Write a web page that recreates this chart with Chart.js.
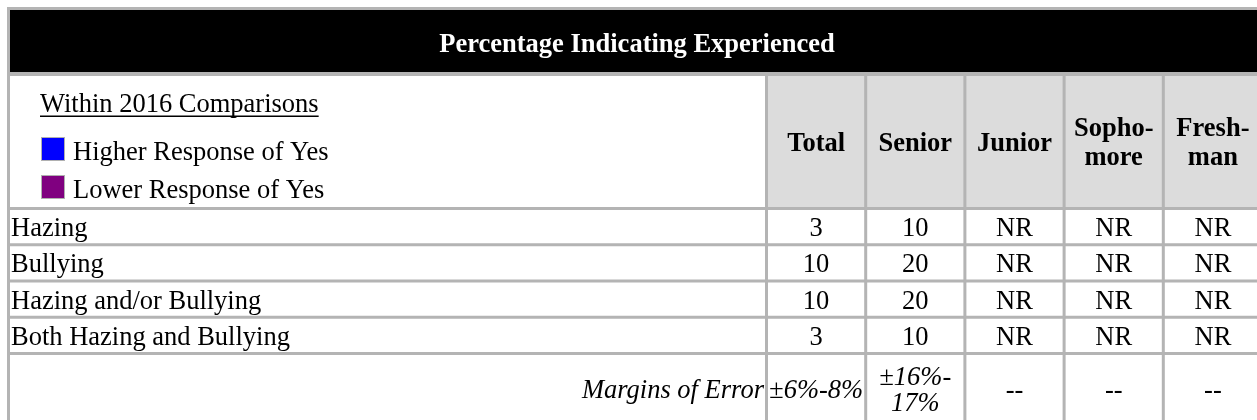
<!DOCTYPE html>
<html>
<head>
<meta charset="utf-8">
<script src="https://cdn.jsdelivr.net/npm/chart.js@4.4.0/dist/chart.umd.min.js"></script>
<style>
    html, body { margin: 0; padding: 0; background: #fff; }
    #wrap { width: 1257px; height: 420px; }
</style>
</head>
<body>
<div id="wrap"><canvas id="tableChart" width="1257" height="420"></canvas></div>
<script>
// Table data
const title = "Percentage Indicating Experienced";
const legendTitle = "Within 2016 Comparisons";
const legendLabels = ["Higher Response of Yes", "Lower Response of Yes"];
const columnLabels = [["Total"], ["Senior"], ["Junior"], ["Sopho-", "more"], ["Fresh-", "man"]];
const categories = ["Hazing", "Bullying", "Hazing and/or Bullying", "Both Hazing and Bullying"];
const totalValues = [3, 10, 10, 3];
const seniorValues = [10, 20, 20, 10];
const juniorValues = [null, null, null, null]; // NR
const sophomoreValues = [null, null, null, null];
const freshmanValues = [null, null, null, null];
const marginLabel = "Margins of Error";
const marginsOfError = [["±6%-8%"], ["±16%-", "17%"], ["--"], ["--"], ["--"]];

// Layout / style
const W = 1257, H = 420;
const FONT = '"Liberation Serif", "Times New Roman", serif';
const FONT_SIZE = 26.5;
const LINE_COLOR = "#b4b4b4";
const HEAD_BG = "#dcdcdc";
const LEGEND_COLORS = ["#0000ff", "#800080"];
const BORDER = 3;
const TABLE_TOP = 7, TABLE_LEFT = 7;
const TITLE_H = 62, TITLE_GAP = 4, HEAD_H = 131;
const COL_W = 99.2, ROW_H = 36.25, MARGIN_ROW_H = 68;
const LABEL_COL_RIGHT = 766.5;
const HEAD_LH = 29.5;
const TEXT_LH = 25.5;

const rowsTop = TABLE_TOP + BORDER + TITLE_H + TITLE_GAP + HEAD_H + 1.5;
const rowsBottom = rowsTop + categories.length * ROW_H;

function drawLines(ctx, lines, x, cy, lh) {
    const first = cy + 9 - (lines.length - 1) * lh / 2;
    lines.forEach((t, k) => ctx.fillText(t, x, first + k * lh));
}

const tablePlugin = {
    id: "tableCells",
    afterDraw(chart) {
        const ctx = chart.ctx;
        const xs = chart.scales.x;
        const ys = chart.scales.y;
        const nCols = columnLabels.length;
        const colEdge = (i) => xs.getPixelForValue(i - 0.5);
        const rowEdge = (i) => ys.getPixelForValue(i - 0.5);
        const tableRight = colEdge(nCols) + 1.5;

        const inner = TABLE_TOP + BORDER;
        const headTop = inner + TITLE_H + TITLE_GAP;
        const marginTop = rowEdge(categories.length) + 1.5;

        ctx.save();
        ctx.fillStyle = "#fff";
        ctx.fillRect(0, 0, W, H);

        // title band
        ctx.fillStyle = "#000";
        ctx.fillRect(TABLE_LEFT + BORDER, inner, tableRight - TABLE_LEFT - BORDER, TITLE_H);

        // column header cells
        ctx.fillStyle = HEAD_BG;
        ctx.fillRect(colEdge(0), headTop, tableRight - colEdge(0), HEAD_H);

        // grid lines
        ctx.fillStyle = LINE_COLOR;
        ctx.fillRect(TABLE_LEFT, TABLE_TOP, W, BORDER);
        ctx.fillRect(TABLE_LEFT, TABLE_TOP, BORDER, H);
        ctx.fillRect(TABLE_LEFT, inner + TITLE_H, W, TITLE_GAP);
        for (let r = 0; r <= categories.length; r++) {
            ctx.fillRect(TABLE_LEFT, rowEdge(r) - 1.5, W, 3);
        }
        for (let c = 0; c <= nCols; c++) {
            ctx.fillRect(colEdge(c) - 1.5, headTop, 3, H);
        }

        // title
        ctx.fillStyle = "#fff";
        ctx.textAlign = "center";
        ctx.textBaseline = "alphabetic";
        ctx.font = "bold " + FONT_SIZE + "px " + FONT;
        ctx.fillText(title, (TABLE_LEFT + BORDER + tableRight) / 2, inner + 42);

        // legend cell
        ctx.fillStyle = "#000";
        ctx.textAlign = "left";
        ctx.font = FONT_SIZE + "px " + FONT;
        const lx = inner + 30;
        ctx.fillText(legendTitle, lx, headTop + 36);
        const tw = ctx.measureText(legendTitle).width;
        ctx.fillRect(lx, headTop + 39.5, tw, 1.5);
        legendLabels.forEach((label, i) => {
            const sy = headTop + 61 + i * 38;
            ctx.fillStyle = LEGEND_COLORS[i];
            ctx.fillRect(lx + 1, sy, 24, 24);
            ctx.strokeStyle = "#b0b0b0";
            ctx.lineWidth = 1;
            ctx.strokeRect(lx + 1.5, sy + 0.5, 23, 23);
            ctx.fillStyle = "#000";
            ctx.fillText(label, lx + 33, headTop + 84 + i * 38);
        });

        // column headers
        ctx.textAlign = "center";
        ctx.font = "bold " + FONT_SIZE + "px " + FONT;
        columnLabels.forEach((lines, c) => {
            drawLines(ctx, lines, xs.getPixelForValue(c), headTop + HEAD_H / 2, HEAD_LH);
        });

        // data rows
        ctx.font = FONT_SIZE + "px " + FONT;
        categories.forEach((cat, r) => {
            const cy = ys.getPixelForValue(r);
            ctx.textAlign = "left";
            ctx.fillText(cat, TABLE_LEFT + BORDER + 1, cy + 9.5);
            ctx.textAlign = "center";
            chart.data.datasets.forEach((ds, c) => {
                const v = ds.data[r];
                ctx.fillText(v === null ? "NR" : String(v), xs.getPixelForValue(c), cy + 9.5);
            });
        });

        // margins of error row
        const my = marginTop + MARGIN_ROW_H / 2;
        ctx.font = "italic " + FONT_SIZE + "px " + FONT;
        ctx.textAlign = "right";
        ctx.fillText(marginLabel, colEdge(0) - 2.5, my + 9);
        ctx.textAlign = "center";
        marginsOfError.forEach((lines, c) => {
            drawLines(ctx, lines, xs.getPixelForValue(c), my, TEXT_LH);
        });
        ctx.restore();
    }
};

const seriesList = [totalValues, seniorValues, juniorValues, sophomoreValues, freshmanValues];

new Chart(document.getElementById("tableChart"), {
    type: "bar",
    data: {
        labels: categories,
        datasets: seriesList.map((values, i) => ({
            label: columnLabels[i].join(""),
            data: values,
            hidden: true
        }))
    },
    options: {
        indexAxis: "y",
        responsive: false,
        animation: false,
        events: [],
        layout: {
            padding: { left: LABEL_COL_RIGHT, right: 0, top: rowsTop, bottom: H - rowsBottom }
        },
        scales: {
            x: {
                type: "linear",
                display: false,
                min: -0.5,
                max: -0.5 + (W - LABEL_COL_RIGHT) / COL_W
            },
            y: {
                type: "category",
                labels: categories,
                offset: true,
                display: false
            }
        },
        plugins: {
            legend: { display: false },
            tooltip: { enabled: false }
        }
    },
    plugins: [tablePlugin]
});
</script>
</body>
</html>
